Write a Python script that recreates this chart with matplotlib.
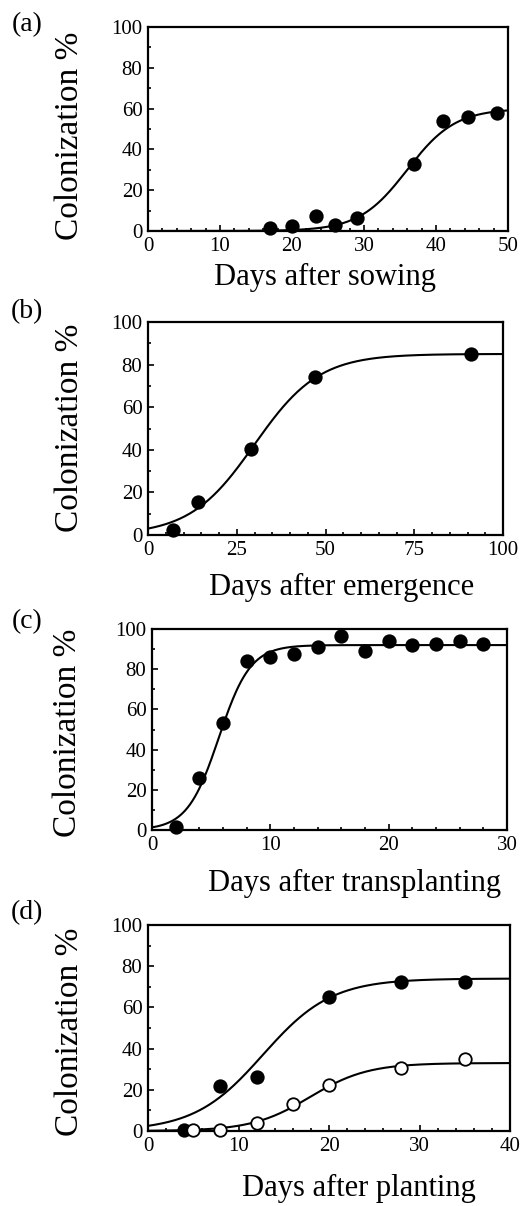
import numpy as np
import matplotlib
matplotlib.use("Agg")
import matplotlib.pyplot as plt
from matplotlib.ticker import MultipleLocator

plt.rcParams['font.family'] = ['Liberation Serif', 'DejaVu Serif']

# (a) days after sowing
a_days = [17, 20, 23.3, 26, 29, 37, 41, 44.5, 48.5]
a_col = [1.5, 2.5, 7.5, 3, 6.5, 33, 54, 56, 58]
a_fit = (60, 0.30, 36.0)          # logistic: asymptote, rate, midpoint

# (b) days after emergence
b_days = [7, 14, 29, 47, 91]
b_col = [2.5, 15.5, 40.5, 74, 85]
b_fit = (85, 0.11, 30.0)

# (c) days after transplanting
c_days = [2, 4, 6, 8, 10, 12, 14, 16, 18, 20, 22, 24, 26, 28]
c_col = [1.5, 26, 53, 84, 86, 87.5, 91, 96.5, 89, 94, 92, 92.5, 94, 92.5]
c_fit = (92, 0.75, 5.65)

# (d) days after planting, two treatments
d_days_filled = [4, 8, 12, 20, 28, 35]
d_col_filled = [0.5, 22, 26, 65, 72.5, 72.5]
d_fit_filled = (74, 0.264, 12.7)
d_days_open = [5, 8, 12, 16, 20, 28, 35]
d_col_open = [0.5, 0.5, 4, 13, 22.5, 30.5, 35]
d_fit_open = (33, 0.313, 17.9)


def logistic(x, p):
    A, k, x0 = p
    return A / (1 + np.exp(-k * (x - x0)))


W, H = 524, 1206
fig = plt.figure(figsize=(W / 100, H / 100), dpi=100)

# pixel boxes of each panel: left, right, top, bottom
boxes = [(148, 508, 27, 231), (148, 503, 322, 535),
         (152, 507, 629, 830), (148, 510, 925, 1131)]
xlims = [50, 100, 30, 40]
xmajor = [10, 25, 10, 10]
xminor = [2, 5, 2, 2]
xlabels = ["Days after sowing", "Days after emergence",
           "Days after transplanting", "Days after planting"]
xlabel_pos = [(325, 277), (342, 587), (355, 883), (359, 1188)]
ylabel_pos = [(70, 136), (70, 428), (68, 733), (70, 1032)]
tags = ["(a)", "(b)", "(c)", "(d)"]
tag_pos = [(27, 25), (27, 312), (27, 622), (27, 913)]

series = [
    [(a_days, a_col, a_fit, 'k')],
    [(b_days, b_col, b_fit, 'k')],
    [(c_days, c_col, c_fit, 'k')],
    [(d_days_filled, d_col_filled, d_fit_filled, 'k'),
     (d_days_open, d_col_open, d_fit_open, 'w')],
]

for i in range(4):
    l, r, t, b = boxes[i]
    ax = fig.add_axes([l / W, 1 - b / H, (r - l) / W, (b - t) / H])
    xx = np.linspace(0, xlims[i], 300)
    for xs, ys, fit, face in series[i]:
        ax.plot(xx, logistic(xx, fit), color='k', lw=1.5, zorder=2)
    for xs, ys, fit, face in series[i]:
        ax.plot(xs, ys, 'o', ms=9, mfc=face, mec='k', mew=1.3,
                zorder=3, clip_on=False)
    ax.set_xlim(0, xlims[i])
    ax.set_ylim(0, 100)
    ax.xaxis.set_major_locator(MultipleLocator(xmajor[i]))
    ax.xaxis.set_minor_locator(MultipleLocator(xminor[i]))
    ax.yaxis.set_major_locator(MultipleLocator(20))
    ax.yaxis.set_minor_locator(MultipleLocator(10))
    ax.tick_params(which='both', direction='in', width=1.2,
                   labelsize=15, pad=4)
    ax.tick_params(which='major', length=4)
    ax.tick_params(which='minor', length=2.5)
    for s in ax.spines.values():
        s.set_linewidth(1.6)

    fig.text(xlabel_pos[i][0] / W, 1 - xlabel_pos[i][1] / H, xlabels[i],
             ha='center', va='center', fontsize=22)
    fig.text(ylabel_pos[i][0] / W, 1 - ylabel_pos[i][1] / H, "Colonization %",
             ha='center', va='center', rotation=90, fontsize=24)
    fig.text(tag_pos[i][0] / W, 1 - tag_pos[i][1] / H, tags[i],
             ha='center', va='center', fontsize=20)

fig.savefig("out.png", dpi=100)
